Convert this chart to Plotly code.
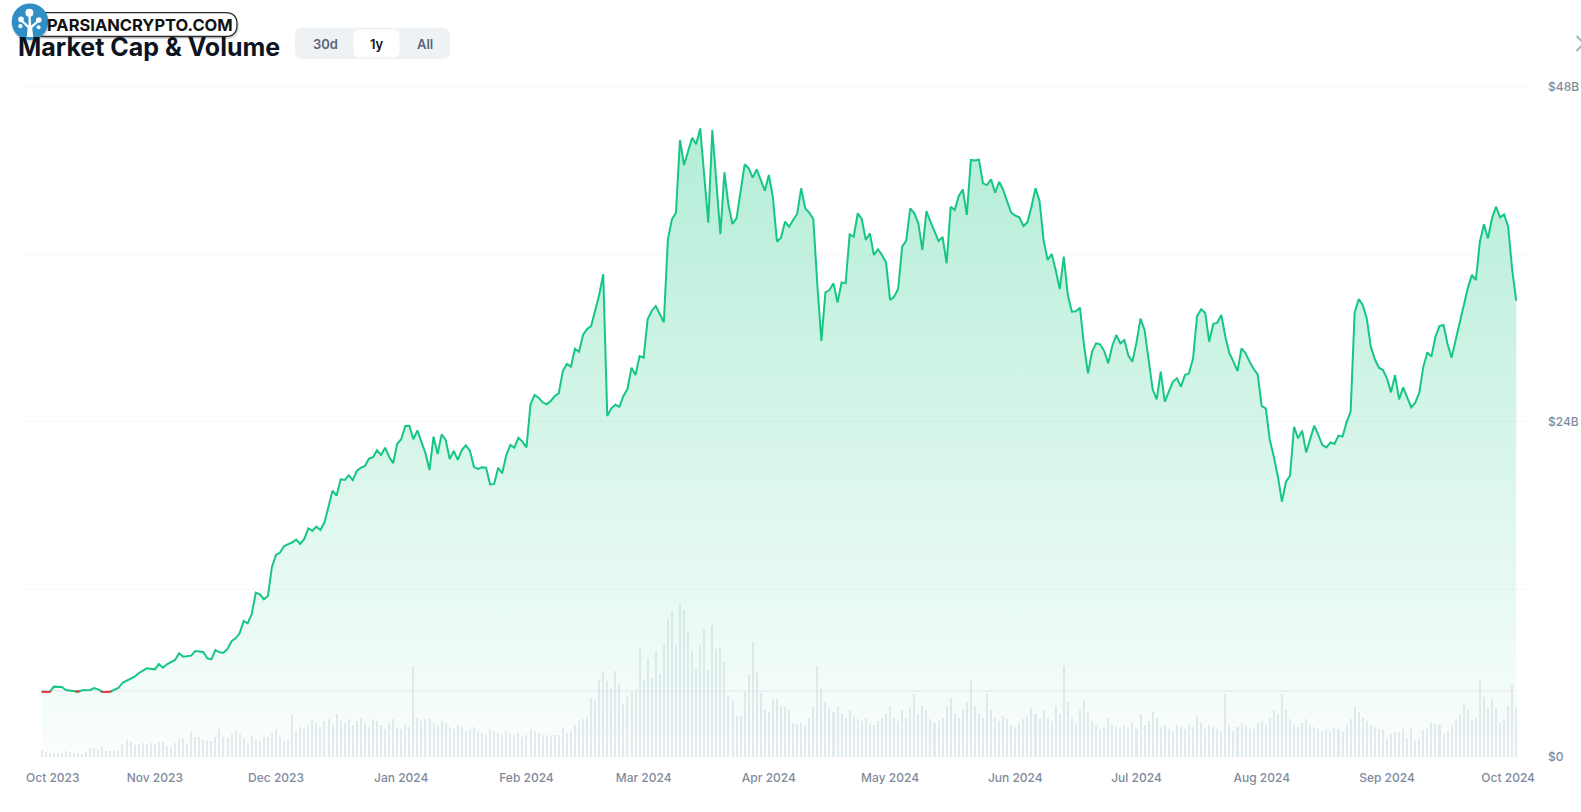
import numpy as np
import pandas as pd
import plotly.graph_objects as go

# ---------------- data ----------------
START = pd.Timestamp("2023-10-04")

# market cap (billions USD), sampled at day offsets from START
mcap_day = [
    0, 2, 3, 5, 6, 8, 9, 10, 12, 13, 14, 15, 17, 18, 19, 20, 22, 23, 24, 26, 28, 29, 30, 31, 33, 34, 35, 37, 38, 40,
    41, 42, 43, 44, 45, 46, 47, 48, 49, 50, 51, 52, 53, 54, 55, 56, 57, 58, 59, 60, 62, 63, 64, 65, 66, 67, 68, 69, 70,
    71, 72, 73, 74, 75, 76, 77, 78, 79, 80, 81, 82, 83, 84, 85, 86, 87, 88, 89, 90, 91,
    92, 93, 94, 95, 96, 97, 98, 99, 100, 101, 102, 103, 104, 105, 106, 107, 108, 109, 110, 111, 112, 113, 114, 115,
    116, 117, 118, 119, 120, 121, 122, 123, 124, 125, 126, 127, 128, 129, 130, 131, 132, 133, 134, 135, 136, 137, 138,
    139, 140, 141, 142, 143, 144, 145, 146, 147, 148, 149, 150, 151, 152, 153, 154, 155, 156, 157, 158, 159, 160, 161,
    162, 163, 165, 166, 168, 169, 170, 171, 172, 173, 174, 175, 176, 177, 178, 179, 180,
    181, 182, 183, 184, 185, 186, 187, 188, 189, 190, 191, 192, 193, 194, 195, 196, 197, 198, 199, 200, 201, 202, 203,
    204, 205, 206, 207, 208, 209, 210, 211, 212, 213, 214, 215, 216, 217, 218, 219, 220, 221, 222, 223, 224, 225, 226,
    227, 228, 229, 230, 231, 232, 233, 234, 235, 236, 237, 238, 239, 240, 241, 242, 243, 244, 245, 246, 247, 248, 249,
    250, 251, 252, 253, 254, 255, 256, 257, 258, 259, 260, 261, 262, 263, 264, 265, 266, 267, 268,
    269, 270, 271, 272, 273, 274, 275, 276, 277, 278, 279, 280, 281, 282, 283, 284, 285, 286, 287, 288, 289, 290, 291,
    292, 293, 294, 295, 296, 297, 298, 299, 300, 301, 302, 303, 304, 305, 306, 307, 308, 309, 310, 311, 312, 313, 314,
    315, 316, 317, 318, 319, 320, 321, 322, 323, 324, 325, 326, 327, 328, 329, 330, 331, 332, 333, 334, 335, 336, 337,
    338, 339, 340, 341, 342, 343, 344, 345, 346, 347, 348, 349, 350, 351, 352, 353, 354, 355, 356, 357, 358, 359, 360,
    361, 362, 363, 364, 365,
]
mcap_bn = [
    4.68, 4.66, 5.04, 5.01, 4.80, 4.75, 4.68, 4.78, 4.80, 4.94, 4.85, 4.66, 4.68, 4.82, 4.94, 5.32, 5.64, 5.75, 6.00,
    6.35, 6.28, 6.66, 6.40, 6.64, 6.95, 7.43, 7.19, 7.26, 7.59, 7.52,
    7.07, 7.00, 7.66, 7.50, 7.47, 7.74, 8.29, 8.50, 8.86, 9.74, 9.58, 10.24, 11.77, 11.65, 11.30, 11.53, 13.63, 14.47,
    14.64, 15.11, 15.38, 15.57, 15.26, 15.62, 16.38, 16.21, 16.50, 16.26, 16.81,
    17.93, 19.08, 18.72, 19.89, 19.84, 20.18, 19.84, 20.49, 20.72, 20.85, 21.37, 21.47, 21.97, 21.63, 22.16, 21.51,
    21.04, 22.44, 22.76, 23.71, 23.73,
    22.76, 23.40, 22.59, 21.75, 20.56, 22.95, 21.70, 23.11, 22.71, 21.35, 21.92, 21.28, 21.99, 22.33, 21.94, 20.77,
    20.63, 20.75, 20.72, 19.53, 19.56, 20.72, 20.32, 21.63,
    22.35, 22.16, 22.87, 22.59, 22.18, 25.26, 25.93, 25.74, 25.41, 25.26, 25.50, 25.86, 26.05, 27.65, 28.15, 27.96,
    29.25, 29.03, 30.23, 30.66, 30.87, 32.02, 33.09,
    34.58, 24.43, 24.98, 25.24, 25.09, 25.86, 26.36, 27.89, 27.36, 28.72, 28.60, 31.38, 31.95, 32.31, 31.73, 31.14,
    37.08, 38.52, 38.99, 44.20, 42.41, 43.48, 44.36,
    43.89, 45.03, 38.27, 44.91, 37.46, 41.88, 39.54, 38.18, 38.59, 40.62, 42.46, 42.17, 41.50, 42.10, 41.33, 40.57, 41.69,
    40.10, 36.91, 37.20, 38.35, 37.99, 38.47, 38.90, 40.74, 39.30, 38.99, 38.54, 33.81, 29.80, 33.29, 33.45, 33.93,
    32.55, 34.00, 33.93, 37.44, 37.27, 38.95, 38.54,
    37.03, 37.51, 35.96, 36.37, 35.96, 35.43, 32.74, 32.97, 33.52, 36.56, 36.99, 39.30, 38.95, 38.23, 36.32, 39.11,
    38.35, 37.58, 36.96, 37.25, 35.36, 39.42, 39.18,
    40.19, 40.66, 38.83, 42.77, 42.74, 42.79, 41.09, 40.97, 41.38, 40.42, 41.21, 40.62, 39.78, 38.99, 38.78, 38.66,
    38.04, 38.30, 39.42, 40.74, 39.83, 37.03, 35.60,
    36.03, 34.89, 33.52, 35.84, 33.09, 31.90, 31.93, 32.19, 29.51, 27.48, 29.04, 29.63, 29.56, 29.08, 28.20, 29.44,
    30.23, 29.63, 29.87,
    28.74, 28.32, 29.70, 31.40, 30.59, 28.30, 26.34, 25.62, 27.60, 25.45, 26.17, 26.88, 27.13, 26.53, 27.36, 27.48,
    28.56, 31.59, 32.07, 31.83, 29.75, 31.02, 31.11,
    31.66, 30.11, 28.92, 28.32, 27.65, 29.27, 28.92, 28.32, 27.79, 27.41, 25.14, 24.97, 22.71, 21.51, 20.08, 18.29,
    19.72, 20.15, 23.66, 22.83, 23.38, 21.82, 22.71,
    23.74, 23.07, 22.35, 22.18, 22.54, 22.42, 23.02, 22.95, 23.97, 24.74, 31.83, 32.81, 32.38, 31.42, 29.39, 28.49,
    27.89, 27.72, 27.13, 26.12, 27.36, 25.62, 26.48,
    25.76, 25.05, 25.38, 26.10, 27.96, 28.99, 28.68, 30.11, 30.87, 30.95, 29.58, 28.61, 29.87, 31.06, 32.38, 33.57,
    34.53, 34.17, 36.91, 38.16, 37.15, 38.59, 39.42,
    38.66, 38.87, 37.99, 34.90, 32.70,
]

# daily trading volume (billions USD), one value per day from START
volume_bn = [
    0.37, 0.25, 0.22, 0.22, 0.20, 0.22, 0.28, 0.23, 0.22, 0.22,
    0.17, 0.23, 0.40, 0.45, 0.33, 0.50, 0.30, 0.28, 0.28, 0.33,
    0.62, 0.87, 0.75, 0.63, 0.67, 0.70, 0.67, 0.70, 0.67, 0.78,
    0.75, 0.58, 0.53, 0.70, 0.92, 0.95, 0.70, 1.25, 1.03, 1.03,
    0.87, 0.83, 0.80, 1.03, 1.42, 1.03, 0.95, 1.17, 1.33, 1.17,
    0.97, 0.70, 1.08, 0.87, 0.83, 1.03, 1.00, 1.20, 1.42, 1.00,
    0.83, 0.87, 2.13, 1.30,
    1.5, 1.4, 1.6, 1.9, 1.7, 1.5, 1.8, 1.9, 1.6, 2.2,
    1.8, 1.7, 1.9, 1.6, 1.8, 2.0, 1.7, 1.5, 1.9, 1.8,
    1.6, 1.4, 1.7, 1.9, 1.5, 1.4, 1.6, 1.5, 4.6, 2.0,
    1.8, 1.9, 2.0, 1.7, 1.6, 1.8, 1.7, 1.5, 1.4, 1.6,
    1.5, 1.3, 1.4, 1.5, 1.3, 1.2, 1.1, 1.4, 1.3, 1.2,
    1.1, 1.3, 1.2, 1.1, 1.2, 1.0, 1.1, 1.4, 1.3, 1.2,
    1.1, 1.1,
    1.05, 1.10, 1.13, 1.47, 1.22, 1.30, 1.63, 1.80, 1.92, 2.05,
    2.97, 2.85, 3.92, 4.35, 3.85, 3.50, 4.38, 3.68, 2.68, 3.05,
    3.35, 3.43, 5.47, 3.92, 5.00, 4.02, 5.38, 4.22, 5.68, 7.00,
    7.38, 5.67, 7.80, 7.47, 6.33, 5.35, 4.47, 5.67, 6.50, 4.42,
    6.67, 5.47, 5.58, 4.83, 3.13, 2.85, 2.10, 2.10, 3.30, 4.18,
    5.80, 4.27, 3.22, 2.38, 2.30, 2.93, 2.93, 2.60, 2.52, 2.38,
    1.72, 1.67,
    1.7, 1.6, 2.0, 2.6, 4.6, 3.5, 2.8, 2.5, 2.3, 2.6,
    2.2, 2.0, 2.4, 2.1, 1.9, 1.8, 2.0, 1.7, 1.6, 1.8,
    2.0, 2.2, 2.6, 2.0, 1.8, 2.4, 2.0, 2.5, 3.2, 2.2,
    2.6, 2.4, 1.9, 1.7, 1.8, 2.0, 2.6, 3.0, 2.2, 2.0,
    2.4, 2.8, 3.9, 2.6, 2.2, 2.0, 3.2, 2.4, 2.0, 1.8,
    2.1, 1.9, 1.6, 1.5, 1.7, 1.9, 2.1, 2.5, 2.2, 1.9,
    2.4, 2.0, 1.8, 2.6, 2.2, 4.6, 2.8, 2.0, 1.7, 2.4,
    2.9, 2.3, 1.8, 1.6, 1.4, 1.5, 2.0, 1.6, 1.5, 1.4,
    1.6, 1.5, 1.7, 1.4, 2.2, 1.6, 1.8, 2.3, 2.0, 1.5,
    1.6, 1.4, 1.3, 1.6, 1.5, 1.4, 1.6, 1.5, 2.1, 1.7,
    1.4, 1.6, 1.5, 1.4, 1.3, 3.2, 1.6, 1.3, 1.5, 1.7,
    1.6, 1.5, 1.4, 1.7, 1.8, 1.6, 2.0, 2.4, 2.2, 3.2,
    2.4, 1.9, 1.6, 1.5, 1.7, 1.9, 1.6, 1.5, 1.4, 1.3,
    1.4, 1.3, 1.5, 1.4, 1.3, 1.6, 1.9, 2.6, 2.3, 2.0,
    1.8, 1.6, 1.5, 1.4,
    1.38, 0.92, 1.17, 1.27, 1.27, 1.42, 0.97, 1.47, 0.85, 0.93,
    1.38, 1.42, 1.72, 1.67, 1.63, 1.17, 1.33, 1.60, 1.85, 2.13,
    2.68, 2.42, 1.88, 2.05, 3.92, 3.05, 2.47, 2.93, 2.47, 1.72,
    1.92, 2.58, 3.63, 2.55,
]

baseline_bn = 4.73  # reference level (start of range)

x_tickvals = ["2023-10-06 18:00", "2023-11-01", "2023-12-01", "2024-01-01", "2024-02-01", "2024-03-01",
              "2024-04-01", "2024-05-01", "2024-06-01", "2024-07-01", "2024-08-01", "2024-09-01", "2024-10-01"]
x_ticktext = ["Oct 2023", "Nov 2023", "Dec 2023", "Jan 2024", "Feb 2024", "Mar 2024", "Apr 2024",
              "May 2024", "Jun 2024", "Jul 2024", "Aug 2024", "Sep 2024", "Oct 2024"]
y_tickvals = [0, 12, 24, 36, 48]
y_ticktext = ["$0", "", "$24B", "", "$48B"]

# ---------------- helpers ----------------
W, H = 1581, 812
ML, MR, MT, MB = 25, 49, 66, 55


def day_to_date(d):
    return START + pd.Timedelta(days=float(d))


def px(x, y):
    """pixel position -> paper coordinates"""
    return (x - ML) / (W - ML - MR), (H - MB - y) / (H - MT - MB)


def rrect_path(x0, y0, x1, y1, r):
    pts = [("M", [(x0 + r, y0)]), ("L", [(x1 - r, y0)]), ("Q", [(x1, y0), (x1, y0 + r)]),
           ("L", [(x1, y1 - r)]), ("Q", [(x1, y1), (x1 - r, y1)]), ("L", [(x0 + r, y1)]),
           ("Q", [(x0, y1), (x0, y1 - r)]), ("L", [(x0, y0 + r)]), ("Q", [(x0, y0), (x0 + r, y0)])]
    s = ""
    for cmd, coords in pts:
        s += cmd + " " + " ".join("%.6f,%.6f" % px(a, b) for a, b in coords) + " "
    return s + "Z"


def poly_path(points):
    return "M " + " L ".join("%.6f,%.6f" % px(a, b) for a, b in points) + " Z"


def circle_shape(cx, cy, r, color, **kw):
    x0, y0 = px(cx - r, cy + r)
    x1, y1 = px(cx + r, cy - r)
    return dict(type="circle", xref="paper", yref="paper", x0=x0, y0=y0, x1=x1, y1=y1,
                fillcolor=color, line=dict(width=0), layer="above", **kw)


# ---------------- traces ----------------
mcap_dates = [day_to_date(d) for d in mcap_day]
vol_dates = [day_to_date(d) for d in range(len(volume_bn))]

# red segments below the reference level
red_x, red_y = [], []
for i in range(len(mcap_day) - 1):
    d0, v0, d1, v1 = mcap_day[i], mcap_bn[i], mcap_day[i + 1], mcap_bn[i + 1]
    if v0 >= baseline_bn and v1 >= baseline_bn:
        continue
    if v0 < baseline_bn and v1 < baseline_bn:
        seg = [(d0, v0), (d1, v1)]
    else:
        t = (baseline_bn - v0) / (v1 - v0)
        dc = d0 + t * (d1 - d0)
        seg = [(d0, v0), (dc, baseline_bn)] if v0 < baseline_bn else [(dc, baseline_bn), (d1, v1)]
    red_x += [day_to_date(s[0]) for s in seg] + [None]
    red_y += [s[1] for s in seg] + [None]

GREEN = "#16c784"
RED = "#ea3943"

fig = go.Figure()
fig.add_trace(go.Bar(x=vol_dates, y=volume_bn, yaxis="y", width=0.5 * 86400000,
                     marker=dict(color="#e8ebf0", line=dict(width=0)), hoverinfo="skip"))
fig.add_trace(go.Scatter(x=mcap_dates, y=mcap_bn, yaxis="y2", mode="lines", line=dict(width=0),
                         fill="tozeroy",
                         fillgradient=dict(type="vertical", start=0, stop=46,
                                           colorscale=[[0, "rgba(22,199,132,0.02)"],
                                                       [1, "rgba(22,199,132,0.33)"]]),
                         hoverinfo="skip"))
fig.add_trace(go.Scatter(x=[mcap_dates[0], mcap_dates[-1]], y=[baseline_bn, baseline_bn], yaxis="y2",
                         mode="lines", line=dict(color="#e3e6eb", width=1), hoverinfo="skip"))
fig.add_trace(go.Scatter(x=mcap_dates, y=mcap_bn, yaxis="y2", mode="lines",
                         line=dict(color=GREEN, width=2), hoverinfo="skip"))
fig.add_trace(go.Scatter(x=red_x, y=red_y, yaxis="y2", mode="lines",
                         line=dict(color=RED, width=2), hoverinfo="skip", connectgaps=False))

# ---------------- layout ----------------
tick_font = dict(family="Inter, sans-serif", size=12, color="#808a9d", weight=500)
x_range = [START - pd.Timedelta(days=4.13), START + pd.Timedelta(days=368.9)]

shapes = []
# logo shadow + pill
shapes.append(dict(type="path", xref="paper", yref="paper", path=rrect_path(34, 14.5, 239, 39, 12),
                   fillcolor="rgba(0,0,0,0.13)", line=dict(width=0), layer="above"))
shapes.append(dict(type="path", xref="paper", yref="paper", path=rrect_path(33, 12.7, 237, 36.5, 11.5),
                   fillcolor="white", line=dict(color="#2a2a2a", width=1.3), layer="above"))
shapes.append(circle_shape(30.5, 23.2, 19.0, "rgba(0,0,0,0.13)"))
shapes.append(circle_shape(30, 21.7, 18.3, "#2f8ec3"))
# tree icon
shapes.append(dict(type="path", xref="paper", yref="paper", layer="above", fillcolor="white", line=dict(width=0),
                   path=poly_path([(26.8, 37), (33.2, 37), (32.2, 28), (38, 22.5), (36.6, 21), (31.2, 25.5),
                                   (30.6, 15), (28.4, 15), (28.6, 25.5), (23, 20.5), (21.6, 22), (27.6, 28)])))
for cx, cy, r in [(29.4, 12.8, 4.0), (21.0, 19.4, 2.8), (38.8, 20.0, 2.8), (20.4, 26.2, 2.1), (38.6, 27.2, 2.0)]:
    shapes.append(circle_shape(cx, cy, r, "white"))
# range selector
shapes.append(dict(type="path", xref="paper", yref="paper", path=rrect_path(295, 27.7, 450, 59, 7.5),
                   fillcolor="#eff2f5", line=dict(width=0), layer="above"))
shapes.append(dict(type="path", xref="paper", yref="paper", path=rrect_path(353.5, 29.5, 399.5, 57.2, 6),
                   fillcolor="white", line=dict(width=0), layer="above"))
# chevron at top right
cx0, cy0 = px(1576.5, 36)
cx1, cy1 = px(1584, 43.5)
cx2, cy2 = px(1576.5, 51)
shapes.append(dict(type="path", xref="paper", yref="paper", layer="above",
                   path="M %.6f,%.6f L %.6f,%.6f L %.6f,%.6f" % (cx0, cy0, cx1, cy1, cx2, cy2),
                   line=dict(color="#a6b0c3", width=2)))

annotations = []


def add_text(text, x, y, size, color, weight=400, xanchor="center", family="Inter, sans-serif"):
    ax, ay = px(x, y)
    annotations.append(dict(text=text, x=ax, y=ay, xref="paper", yref="paper", xanchor=xanchor,
                            yanchor="middle", showarrow=False,
                            font=dict(family=family, size=size, color=color, weight=weight)))


add_text("Market Cap & Volume", 16, 46.5, 25, "#0d1421", weight=700, xanchor="left")
add_text("PARSIANCRYPTO.COM", 140, 25.0, 16.5, "#111111", weight=700)
add_text("30d", 325, 44, 13, "#58667e", weight=600)
add_text("1y", 376.5, 44, 13, "#0d1421", weight=600)
add_text("All", 425, 44, 13, "#58667e", weight=600)

fig.update_layout(
    template="none",
    width=W, height=H,
    margin=dict(l=ML, r=MR, t=MT, b=MB, pad=0, autoexpand=False),
    paper_bgcolor="white", plot_bgcolor="white",
    showlegend=False,
    font=dict(family="Inter, sans-serif", color="#808a9d"),
    bargap=0,
    xaxis=dict(type="date", range=x_range, tickvals=x_tickvals, ticktext=x_ticktext, automargin=False,
               showgrid=False, zeroline=False, showline=False, ticks="", tickfont=tick_font,
               ticklabelstandoff=12, fixedrange=True),
    yaxis=dict(range=[0, 35], visible=False, showgrid=False, fixedrange=True, automargin=False),
    yaxis2=dict(overlaying="y", side="right", range=[0, 49.5], tickvals=y_tickvals, ticktext=y_ticktext,
                showgrid=True, gridcolor="#dde1e6", griddash="1px,3px", gridwidth=1, zeroline=False,
                showline=False, ticks="", tickfont=tick_font, ticklabelstandoff=15, fixedrange=True,
                automargin=False),
    shapes=shapes,
    annotations=annotations,
)

fig.write_html("out.html", config={"displayModeBar": False})
